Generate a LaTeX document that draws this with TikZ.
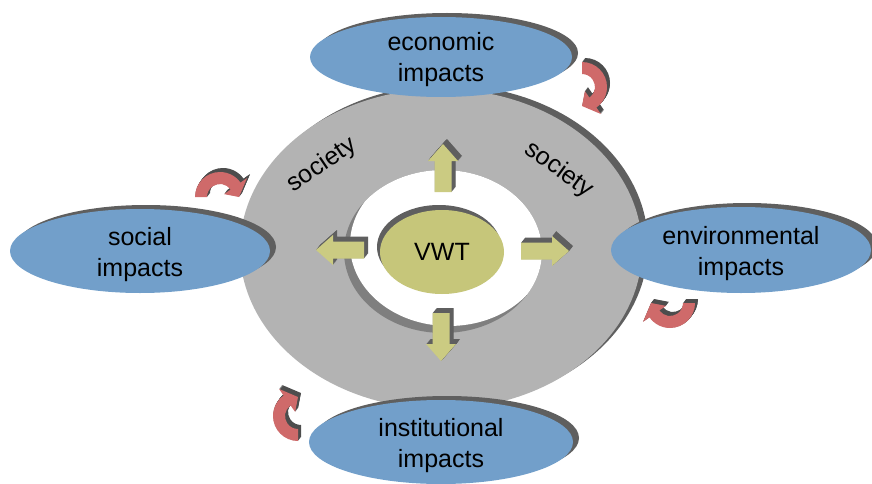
\documentclass[tikz,border=0pt]{standalone}
\usepackage{fontspec}
\setmainfont{Liberation Sans}
\usetikzlibrary{shapes.geometric,shadows}
\definecolor{bluefill}{HTML}{729FCA}
\definecolor{ringgray}{HTML}{B3B3B3}
\definecolor{rimdark}{HTML}{5F5F5F}
\definecolor{vwtfill}{HTML}{C6C67A}
\definecolor{arrfill}{HTML}{CBCB82}
\definecolor{redfill}{HTML}{CF6A6A}
\definecolor{reddark}{HTML}{4D4D4D}
\tikzset{
  x=1pt,y=1pt,
  impact/.style={ellipse, fill=bluefill, inner sep=0pt,
    drop shadow={shadow xshift=6pt, shadow yshift=4pt, fill=rimdark, opacity=1}},
  impacttext/.style={align=center, inner sep=0pt, font=\fontsize{25}{31}\selectfont},
  soc/.style={font=\fontsize{25}{29}\selectfont},
}
\newcommand\blockpath{(0,-8.5) -- (31,-8.5) -- (31,-15) -- (48,0) -- (31,15) -- (31,8.5) -- (0,8.5) -- cycle}
\newcommand\yarr[3]{%
  \foreach \k in {0.5,1,...,5}{%
    \begin{scope}[shift={(#1+0.8*\k,#2+\k)}, rotate=#3]
      \fill[rimdark] \blockpath;
    \end{scope}}
  \begin{scope}[shift={(#1,#2)}, rotate=#3]
    \fill[arrfill] \blockpath;
  \end{scope}}
\newcommand\redpath{(180:25) arc[start angle=180, end angle=35, radius=25] -- (35:33) -- (0:19) -- (35:5) -- (35:13) arc[start angle=35, end angle=180, radius=13] -- cycle}
\newcommand\rarr[3]{%
  \foreach \k in {0.5,1,...,4}{%
    \begin{scope}[shift={(#1+0.75*\k,#2+\k)}, rotate=#3]
      \fill[reddark] \redpath;
    \end{scope}}
  \begin{scope}[shift={(#1,#2)}, rotate=#3]
    \fill[redfill] \redpath;
  \end{scope}}
\begin{document}
\begin{tikzpicture}
\useasboundingbox (0,0) rectangle (872,483);
% ring
\fill[rimdark] (447,238) ellipse[x radius=201, y radius=160];
\fill[ringgray] (441,234) ellipse[x radius=201, y radius=160];
% hole with inner wall
\fill[rimdark!80] (443,231.5) ellipse[x radius=99, y radius=81.5];
\begin{scope}
  \clip (443,231.5) ellipse[x radius=99, y radius=81.5];
  \fill[white] (449,238.5) ellipse[x radius=99, y radius=81.5];
\end{scope}
% VWT
\fill[rimdark] (439,236) ellipse[x radius=62, y radius=42];
\node[ellipse, fill=vwtfill, minimum width=124pt, minimum height=84pt, inner sep=0pt,
  font=\fontsize{25}{31}\selectfont] (vwt) at (442,231) {VWT};
% yellow block arrows
\yarr{443}{291}{90}
\yarr{441}{170}{-90}
\yarr{521}{232}{0}
\yarr{364}{233}{180}
% society labels
\node[soc, rotate=34] (socl) at (322,318) {society};
\node[soc, rotate=-36] (socr) at (559,313) {society};
% impact ellipses
\node[impact, minimum width=262pt, minimum height=80pt] (eco) at (441,426) {};
\node[impacttext] (ecot) at ([yshift=-3pt]eco.center) {economic\\impacts};
\node[impact, minimum width=260pt, minimum height=84pt] (socimp) at (140,232) {};
\node[impacttext] (socimpt) at ([yshift=-4pt]socimp.center) {social\\impacts};
\node[impact, minimum width=260pt, minimum height=86pt] (env) at (741,233) {};
\node[impacttext] (envt) at ([yshift=-4pt]env.center) {environmental\\impacts};
\node[impact, minimum width=264pt, minimum height=84pt] (inst) at (441,41) {};
\node[impacttext] (instt) at ([yshift=-4pt]inst.center) {institutional\\impacts};
% red curved arrows
\rarr{220}{286}{0}
\rarr{582}{396}{-90}
\rarr{670}{180}{180}
\rarr{298}{67}{90}
\end{tikzpicture}
\end{document}
